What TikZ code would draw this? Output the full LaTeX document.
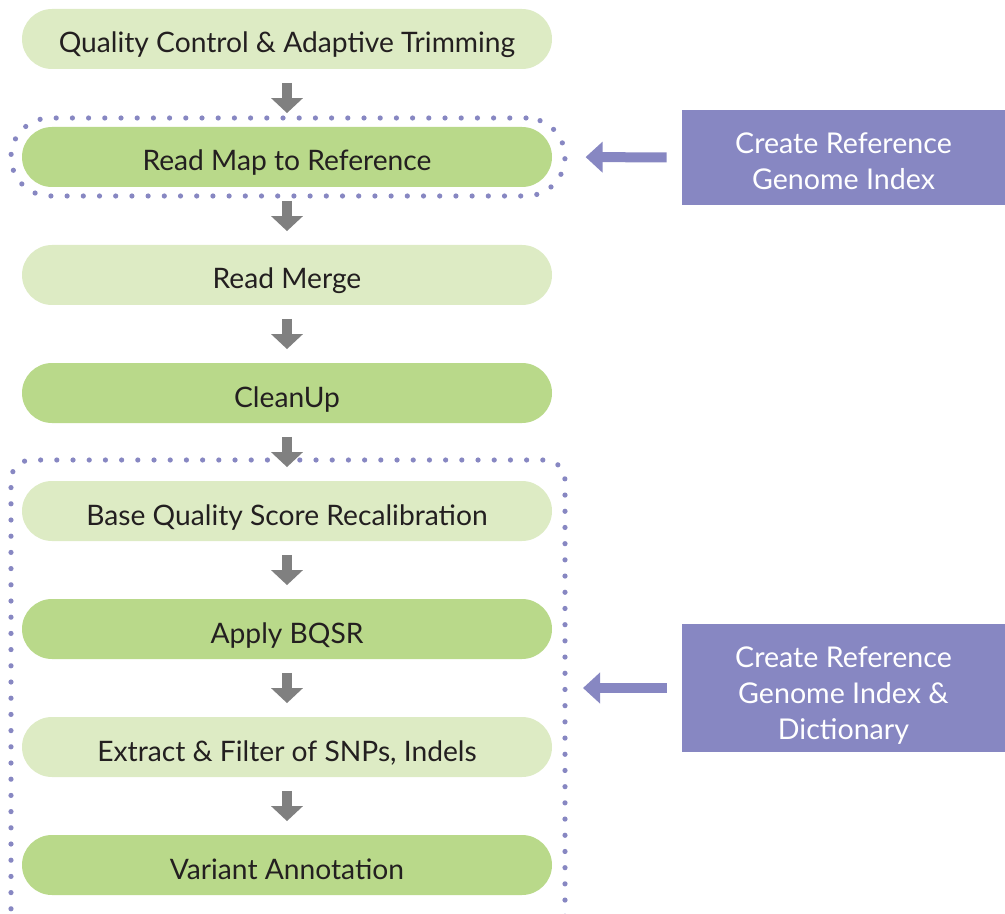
\documentclass[tikz,border=0pt]{standalone}
\usepackage{fontspec}
\setmainfont{Lato}
\usetikzlibrary{arrows.meta}

\definecolor{verdeclaro}{HTML}{DDEBC4}
\definecolor{verdeoscuro}{HTML}{B9D98A}
\definecolor{morado}{HTML}{8787C2}
\definecolor{gris}{HTML}{808080}
\definecolor{texto}{HTML}{231F20}

\begin{document}
\begin{tikzpicture}[x=0.5pt, y=-0.5pt,
    paso/.style={rectangle, rounded corners=15pt, minimum width=265pt, minimum height=30pt,
        inner sep=0pt, text=texto, text height=14pt, text depth=0pt,
        font=\fontsize{14.1}{16}\selectfont},
    claro/.style={paso, fill=verdeclaro},
    oscuro/.style={paso, fill=verdeoscuro},
    flecha/.style={gris, line width=5pt, -{Triangle[width=15.5pt, length=7.5pt]},
        shorten <=6.75pt, shorten >=6.75pt},
    puntos/.style={morado, line width=2.6pt, line cap=round, dash pattern=on 0pt off 8.1pt},
    caja/.style={rectangle, fill=morado, text=white, minimum width=161.5pt, align=center,
        inner sep=0pt, text depth=0pt, font=\fontsize{14.3}{18}\selectfont},
    flechamorada/.style={morado, line width=5pt, -{Triangle[width=15pt, length=8.5pt]},
        shorten <=7.5pt, shorten >=9pt}]
    \useasboundingbox (0,0) rectangle (1005,914);
    \clip (0,0) rectangle (1005,914);

    % Nodos
    \node[claro] (qc) at (287,39) {Quality Control \& Adaptive Trimming};
    \node[oscuro] (mapref) at (287,157) {Read Map to Reference};
    \node[claro] (merge) at (287,275) {Read Merge};
    \node[oscuro] (cleanup) at (287,393) {CleanUp};
    \node[claro] (bqsr) at (287,511) {Base Quality Score Recalibration};
    \node[oscuro] (apply) at (287,629) {Apply BQSR};
    \node[claro] (extract) at (287,747) {Extract \& Filter of SNPs, Indels};
    \node[oscuro] (annot) at (287,865) {Variant Annotation};

    % Marcos punteados
    \node[draw, puntos, rectangle, rounded corners=19.5pt, minimum width=277pt,
        minimum height=39pt] (ring) at (288,157) {};
    \draw[puntos, rounded corners=10pt] (11,925) -- (11,460) -- (565,460) -- (565,925);
    \coordinate (marco) at (565,688);

    % Cajas
    \node[caja, minimum height=47.5pt, text height=32.5pt] (index) at (843.5,157.5)
        {Create Reference\\Genome Index};
    \node[caja, minimum height=64pt, text height=51pt] (dict) at (843.5,688)
        {Create Reference\\Genome Index \&\\Dictionary};

    % Flechas
    \draw[flecha] (qc) -- (mapref);
    \draw[flecha] (mapref) -- (merge);
    \draw[flecha] (merge) -- (cleanup);
    \draw[flecha] (cleanup) -- (bqsr);
    \draw[flecha] (bqsr) -- (apply);
    \draw[flecha] (apply) -- (extract);
    \draw[flecha] (extract) -- (annot);
    \draw[flechamorada] (index.west) -- (ring.east);
    \draw[flechamorada] (dict.west) -- (marco);

\end{tikzpicture}
\end{document}
